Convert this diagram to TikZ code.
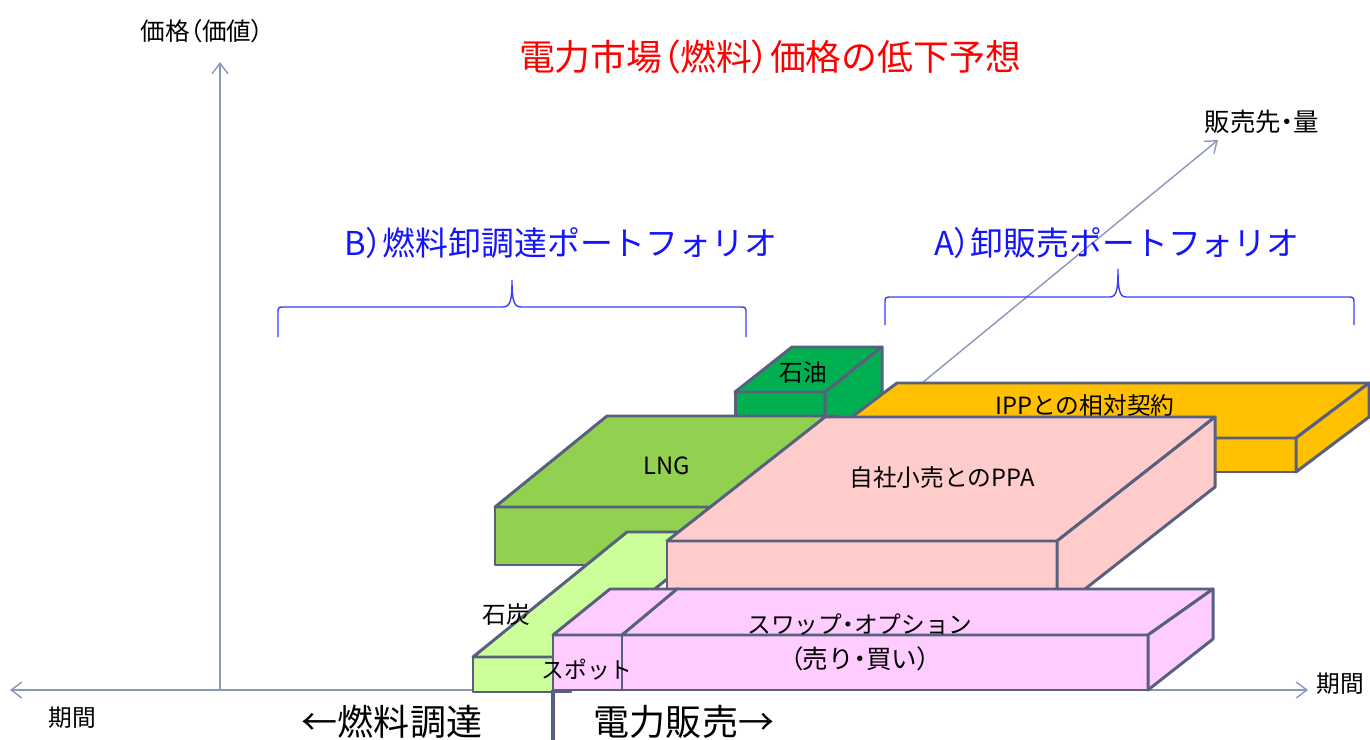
\documentclass[tikz,border=0pt]{standalone}
\usepackage{fontspec}
\setmainfont{Noto Sans CJK JP}
\newfontfamily\jpprop[RawFeature=+palt]{Noto Sans CJK JP}
\newcommand\hp[1]{{\jpprop #1}}
\usetikzlibrary{arrows.meta}
\definecolor{boxc}{RGB}{88,96,128}
\definecolor{axisc}{RGB}{140,150,188}
\definecolor{lblue}{RGB}{20,20,255}
\definecolor{brc}{RGB}{60,60,255}
\definecolor{oilc}{RGB}{0,176,80}
\definecolor{lngc}{RGB}{146,208,80}
\definecolor{ippc}{RGB}{255,192,0}
\definecolor{ppac}{RGB}{255,204,204}
\definecolor{coalc}{RGB}{204,255,153}
\definecolor{swapc}{RGB}{255,204,255}
\tikzset{
  boxface/.style={draw=boxc, line width=1.7pt, line join=round},
  axisline/.style={draw=axisc, line width=0.8pt},
  barb/.style={-{Straight Barb[length=6pt,width=9pt]}},
  bracepath/.style={draw=brc, line width=0.8pt},
  lbl/.style={inner sep=0pt, font=\fontsize{13.5pt}{16pt}\selectfont},
  slbl/.style={inner sep=0pt, font=\fontsize{13pt}{16pt}\selectfont},
  biglbl/.style={inner sep=0pt, font=\fontsize{20.5pt}{24pt}\selectfont},
  portlbl/.style={inner sep=0pt, text=lblue, font=\fontsize{18.7pt}{22pt}\selectfont},
}
\begin{document}
\begin{tikzpicture}[x=0.02cm,y=-0.02cm]
\useasboundingbox (0,0) rectangle (1370,740);

% axes
\coordinate (hl) at (10,690);
\coordinate (hr) at (1308,690);
\coordinate (vb) at (220,690);
\coordinate (vt) at (220,62);
\coordinate (ds) at (866,429);
\coordinate (de) at (1218,140);
\draw[axisline, {Straight Barb[length=6pt,width=9pt]}-{Straight Barb[length=6pt,width=9pt]}] (hr) -- (hl);
\draw[axisline, barb] (vb) -- (vt);
\draw[axisline, barb] (ds) -- (de);

% axis labels
\node[inner sep=0pt, font=\fontsize{14pt}{16pt}\selectfont] (yl) at (202,31) {価格\hp{（}価値\hp{）}};
\node[inner sep=0pt, font=\fontsize{14.5pt}{16pt}\selectfont] (zl) at (1262,122) {販売先\hp{・}量};
\node[lbl] (xl1) at (72,718) {期間};
\node[lbl] (xl2) at (1340,684) {期間};
\node[biglbl] (fuel) at (392,722) {←燃料調達};
\node[biglbl] (sale) at (684,722) {電力販売→};

% title
\node[inner sep=0pt, text=red, font=\fontsize{20.4pt}{24pt}\selectfont] (title) at (770,57) {電力市場\hp{（}燃料\hp{）}価格の低下予想};

% portfolio labels and braces
\node[portlbl] (bl) at (561,243) {B\hp{）}燃料卸調達ポートフォリオ};
\node[portlbl] (al) at (1117,243) {A\hp{）}卸販売ポートフォリオ};
\draw[bracepath] (278,337) -- (278,314) .. controls (278,307) .. (285,307) -- (503,307)
  .. controls (511,307) and (512,298) .. (512,280)
  .. controls (512,298) and (513,307) .. (521,307) -- (739,307)
  .. controls (746,307) .. (746,314) -- (746,337);
\draw[bracepath] (885,325) -- (885,304) .. controls (885,297) .. (892,297) -- (1110,297)
  .. controls (1117,297) and (1118,288) .. (1118,269)
  .. controls (1118,288) and (1119,297) .. (1126,297) -- (1347,297)
  .. controls (1354,297) .. (1354,304) -- (1354,325);

% oil
\filldraw[boxface, fill=oilc] (735,392) rectangle (825,442);
\filldraw[boxface, fill=oilc] (735,392) -- (792,347) -- (882,347) -- (825,392) -- cycle;
\filldraw[boxface, fill=oilc] (825,392) -- (882,347) -- (882,397) -- (825,442) -- cycle;
\node[lbl] (oil) at (803,373) {石油};

% IPP
\filldraw[boxface, fill=ippc] (824,438) rectangle (1296,472);
\filldraw[boxface, fill=ippc] (824,438) -- (897,383) -- (1369,383) -- (1296,438) -- cycle;
\filldraw[boxface, fill=ippc] (1296,438) -- (1369,383) -- (1369,417) -- (1296,472) -- cycle;
\node[lbl] (ipp) at (1085,405) {IPPとの相対契約};

% LNG
\filldraw[boxface, fill=lngc] (495,507) rectangle (725,565);
\filldraw[boxface, fill=lngc] (495,507) -- (607,416) -- (837,416) -- (725,507) -- cycle;
\node[lbl] (lng) at (667,466) {LNG};

% coal
\filldraw[boxface, fill=coalc] (473,657) rectangle (571,692);
\filldraw[boxface, fill=coalc] (473,657) -- (627,532) -- (725,532) -- (571,657) -- cycle;

% PPA
\filldraw[boxface, fill=ppac] (667,541) rectangle (1057,611);
\filldraw[boxface, fill=ppac] (667,541) -- (825,417) -- (1215,417) -- (1057,541) -- cycle;
\filldraw[boxface, fill=ppac] (1057,541) -- (1215,417) -- (1215,487) -- (1057,611) -- cycle;
\node[lbl] (ppa) at (942,477) {自社小売とのPPA};

% spot
\filldraw[boxface, fill=swapc] (553,635) rectangle (622,690);
\filldraw[boxface, fill=swapc] (553,635) -- (610,589) -- (679,589) -- (622,635) -- cycle;

% swap
\filldraw[boxface, fill=swapc] (622,635) rectangle (1148,690);
\filldraw[boxface, fill=swapc] (622,635) -- (677,589) -- (1213,589) -- (1148,635) -- cycle;
\filldraw[boxface, fill=swapc] (1148,635) -- (1213,589) -- (1213,639) -- (1148,690) -- cycle;
\node[inner sep=0pt, font=\fontsize{13.5pt}{16pt}\selectfont] (swap1) at (860,625) {スワップ\hp{・}オプション};
\node[inner sep=0pt, font=\fontsize{14.5pt}{16pt}\selectfont] (swap2) at (860,659) {\hp{（}売り\hp{・}買い\hp{）}};

\node[lbl] (coal) at (506,614) {石炭};
\node[slbl] (spot) at (587,670) {スポット};

% divider
\coordinate (dv1) at (553,690);
\coordinate (dv2) at (553,740);
\draw[draw=boxc, line width=2pt] (dv1) -- (dv2);
\end{tikzpicture}
\end{document}
